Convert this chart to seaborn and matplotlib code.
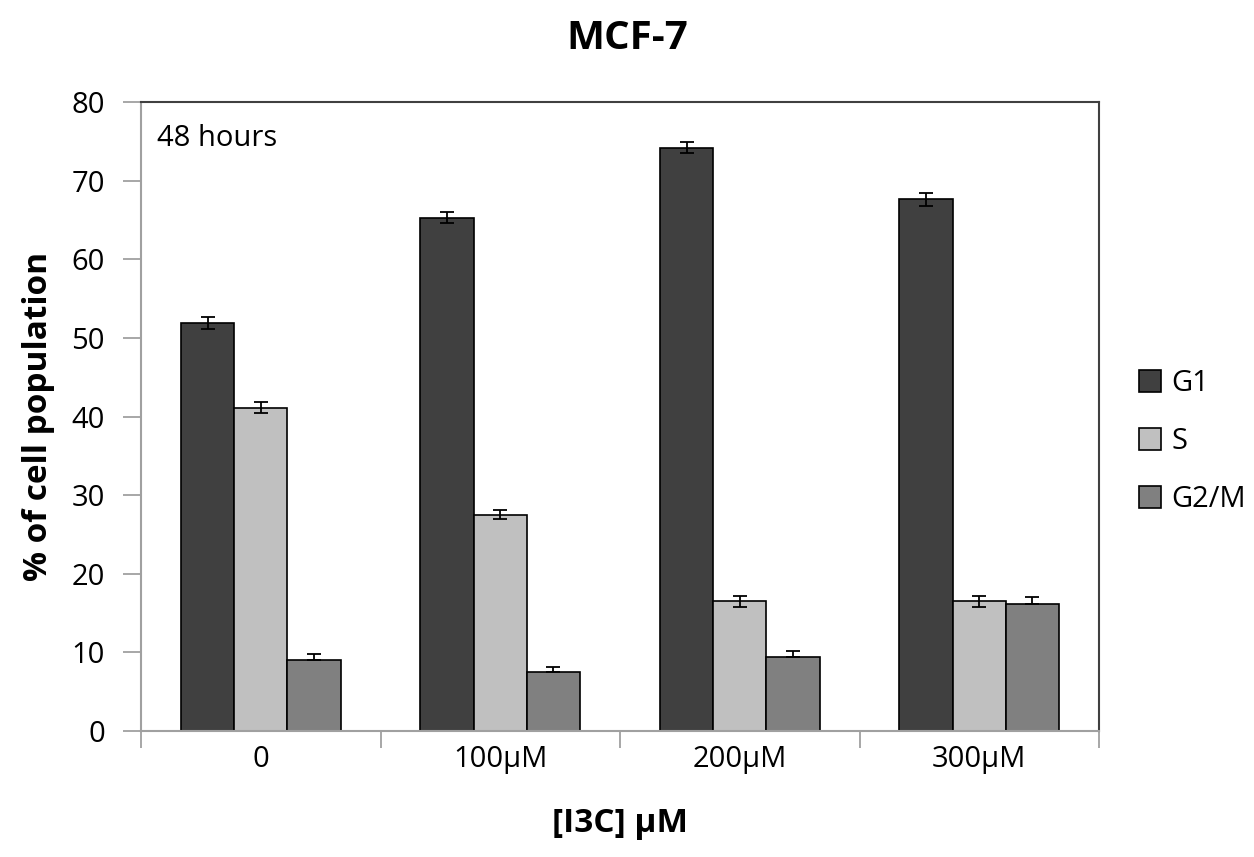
import numpy as np
import pandas as pd
import matplotlib
matplotlib.use("Agg")
import matplotlib.pyplot as plt
import seaborn as sns

categories = ["0", "100µM", "200µM", "300µM"]
phases = ["G1", "S", "G2/M"]
g1 = [51.9, 65.3, 74.2, 67.6]
s = [41.1, 27.5, 16.5, 16.5]
g2m = [9.0, 7.5, 9.4, 16.2]
g1_err = [0.8, 0.7, 0.7, 0.8]
s_err = [0.7, 0.6, 0.7, 0.7]
g2m_err = [0.8, 0.7, 0.8, 0.8]
colors = ["#404040", "#C0C0C0", "#808080"]

sns.set_theme(style="white")
plt.rcParams["font.family"] = ["Open Sans", "DejaVu Sans"]
plt.rcParams["text.color"] = "black"
plt.rcParams["axes.labelcolor"] = "black"
plt.rcParams["xtick.labelcolor"] = "black"
plt.rcParams["ytick.labelcolor"] = "black"

df = pd.DataFrame({
    "dose": categories * 3,
    "phase": [p for p in phases for _ in categories],
    "value": g1 + s + g2m,
})
errs = {"G1": (g1_err, g1_err), "S": (s_err, s_err), "G2/M": ([0] * 4, g2m_err)}

fig = plt.figure(figsize=(12.54, 8.57), dpi=100)
ax = fig.add_axes([141 / 1254, (857 - 731) / 857, (1099 - 141) / 1254, (731 - 102) / 857])

sns.barplot(data=df, x="dose", y="value", hue="phase", order=categories,
            hue_order=phases, palette=colors, width=0.667, edgecolor="black",
            linewidth=1.2, saturation=1, errorbar=None, ax=ax, legend=True)

# error bars placed on the bars drawn by seaborn
for container, ph in zip(ax.containers, phases):
    lo, hi = errs[ph]
    xs = [b.get_x() + b.get_width() / 2 for b in container]
    ys = [b.get_height() for b in container]
    ax.errorbar(xs, ys, yerr=[lo, hi], fmt="none", ecolor="black",
                elinewidth=1.3, capsize=5, capthick=1.3, zorder=5)

ax.set_ylim(0, 80)
ax.set_xlim(-0.5, 3.5)
ax.set_yticks(np.arange(0, 81, 10))
ax.tick_params(axis="y", direction="out", length=13, width=1.3, color="#A0A0A0",
               labelsize=21, pad=13, left=True, labelcolor="black")
ax.tick_params(axis="x", which="major", length=0, labelsize=21, pad=10,
               labelcolor="black")
ax.set_xticks(np.arange(-0.5, 3.6, 1.0), minor=True)
ax.tick_params(axis="x", which="minor", direction="out", length=12, width=1.3,
               color="#A0A0A0", bottom=True)

for side in ["left", "bottom"]:
    ax.spines[side].set_color("#A0A0A0")
    ax.spines[side].set_linewidth(1.5)
for side in ["top", "right"]:
    ax.spines[side].set_color("#404040")
    ax.spines[side].set_linewidth(1.5)

ax.set_xlabel("[I3C] µM", fontsize=24, fontweight="bold", labelpad=24, color="black")
ax.set_ylabel("% of cell population", fontsize=24, fontweight="bold", labelpad=12,
              color="black")
fig.suptitle("MCF-7", x=(141 + 1099) / 2 / 1254 + 0.006, y=0.978, fontsize=29,
             fontweight="bold", va="top", color="black")
ax.text(0.017, 0.965, "48 hours", transform=ax.transAxes, fontsize=21,
        va="top", ha="left", color="black")

leg = ax.legend(loc="center left", bbox_to_anchor=(1.03, 0.46), frameon=False,
                fontsize=21, handlelength=0.75, handleheight=0.75, handletextpad=0.35,
                labelspacing=1.0, borderaxespad=0)
for t in leg.get_texts():
    t.set_color("black")

fig.savefig("out.png", dpi=100)
